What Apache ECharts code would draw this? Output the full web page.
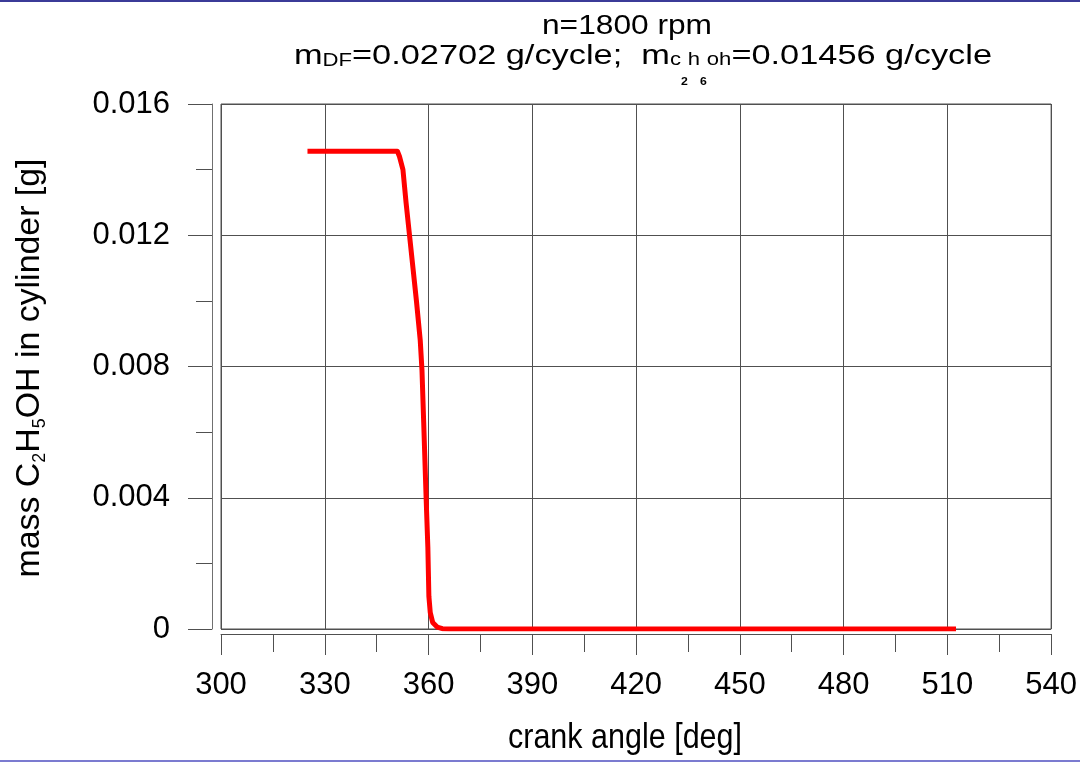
<!DOCTYPE html>
<html>
<head>
<meta charset="utf-8">
<script src="https://cdn.jsdelivr.net/npm/echarts@6/dist/echarts.min.js"></script>
<style>
  html, body { margin: 0; padding: 0; background: #fff; }
  #chart { width: 1080px; height: 763px; }
</style>
</head>
<body>
<div id="chart"></div>
<script>
// crank angle [deg]
var crankAngle = [325, 351, 351.6, 352.6, 353.5, 354.5, 355.5, 356.5, 357.6, 358.1, 358.6, 359.3, 359.8, 360.1, 360.5, 361.2, 362.5, 364, 366, 512.5]
// mass of C2H5OH in the cylinder [g]
var massEthanol = [0.01456, 0.01456, 0.0144, 0.014, 0.013, 0.012, 0.011, 0.01, 0.0088, 0.0079, 0.0063, 0.004, 0.0025, 0.001, 0.0005, 0.0002, 0.00006, 0.00001, 0, 0]
// axis ranges: min, max, step
var xRange = [300, 540, 30]
var yRange = [0, 0.016, 0.004]

var FONT = '"Liberation Sans", Arial, Helvetica, sans-serif'
var GRID_COLOR = '#505050'

// text runs with sub/sub-subscripts, shift = baseline drop in px
var titleLine1 = [{ text: 'n=1800 rpm', size: 28 }]
var titleLine2 = [
  { text: 'm', size: 28 },
  { text: 'DF', size: 18, shift: 1 },
  { text: '=0.02702 g/cycle;  m', size: 28 },
  { text: 'c', size: 18 },
  { text: '2', size: 10, bold: true, shift: 20 },
  { text: 'h', size: 18 },
  { text: '6', size: 10, bold: true, shift: 20 },
  { text: 'oh', size: 18 },
  { text: '=0.01456 g/cycle', size: 28 }
]
var yName = [
  { text: 'mass C', size: 34 },
  { text: '2', size: 18, shift: 4 },
  { text: 'H', size: 34 },
  { text: '5', size: 18, shift: 4 },
  { text: 'OH in cylinder [g]', size: 34 }
]
var xName = [{ text: 'crank angle [deg]', size: 35 }]

var measureCtx = document.createElement('canvas').getContext('2d')
function fontOf(p) {
  return (p.bold ? 'bold ' : '') + p.size + 'px ' + FONT
}
function textRun(pieces, opts) {
  var x = 0
  var children = []
  pieces.forEach(function (p) {
    measureCtx.font = fontOf(p)
    children.push({
      type: 'text',
      x: x,
      y: (p.shift || 0) - 0.35 * p.size,
      style: { text: p.text, font: fontOf(p), fill: '#000', textAlign: 'left', textVerticalAlign: 'middle' }
    })
    x += measureCtx.measureText(p.text).width
  })
  var ox = opts.center ? -x / 2 : 0
  children.forEach(function (c) { c.x += ox })
  return {
    type: 'group',
    x: opts.x,
    y: opts.y,
    scaleX: opts.width ? opts.width / x : 1,
    rotation: opts.rotation || 0,
    silent: true,
    children: children
  }
}

var chart = echarts.init(document.getElementById('chart'))
var option = {
  animation: false,
  backgroundColor: '#fff',
  grid: {
    left: 221,
    right: 27,
    top: 104,
    bottom: 134,
    show: true,
    borderColor: GRID_COLOR,
    borderWidth: 1,
    containLabel: false
  },
  xAxis: {
    type: 'value',
    min: xRange[0],
    max: xRange[1],
    interval: xRange[2],
    offset: 5,
    axisLine: { show: true, onZero: false, lineStyle: { color: GRID_COLOR, width: 1 } },
    axisTick: { show: true, length: 21, lineStyle: { color: GRID_COLOR } },
    minorTick: { show: true, splitNumber: 2, length: 18, lineStyle: { color: GRID_COLOR } },
    splitLine: { show: true, lineStyle: { color: GRID_COLOR, width: 1 } },
    axisLabel: { fontSize: 31, fontFamily: FONT, color: '#000', margin: 36 }
  },
  yAxis: {
    type: 'value',
    min: yRange[0],
    max: yRange[1],
    interval: yRange[2],
    offset: 9,
    axisLine: { show: true, onZero: false, lineStyle: { color: '#707070', width: 1 } },
    axisTick: { show: true, length: 24, lineStyle: { color: GRID_COLOR } },
    minorTick: { show: true, splitNumber: 2, length: 16, lineStyle: { color: GRID_COLOR } },
    splitLine: { show: true, lineStyle: { color: GRID_COLOR, width: 1 } },
    axisLabel: {
      fontSize: 31,
      fontFamily: FONT,
      color: '#000',
      margin: 42,
      formatter: function (v) { return v === 0 ? '0' : v.toFixed(3) }
    }
  },
  series: [
    {
      type: 'line',
      data: crankAngle.map(function (a, i) { return [a, massEthanol[i]] }),
      showSymbol: false,
      symbol: 'none',
      lineStyle: { color: '#ff0000', width: 5, join: 'round' },
      z: 5
    }
  ],
  graphic: [
    { type: 'rect', shape: { x: 0, y: 0, width: 1080, height: 2 }, style: { fill: '#3b3b98' }, silent: true },
    { type: 'rect', shape: { x: 0, y: 760, width: 1080, height: 2 }, style: { fill: '#7b7bd0' }, silent: true },
    textRun(titleLine1, { x: 542, y: 36, width: 170 }),
    textRun(titleLine2, { x: 294, y: 66, width: 698 }),
    textRun(xName, { x: 625, y: 751, width: 234, center: true }),
    textRun(yName, { x: 42, y: 368, width: 419, center: true, rotation: Math.PI / 2 })
  ]
}
chart.setOption(option)
</script>
</body>
</html>
